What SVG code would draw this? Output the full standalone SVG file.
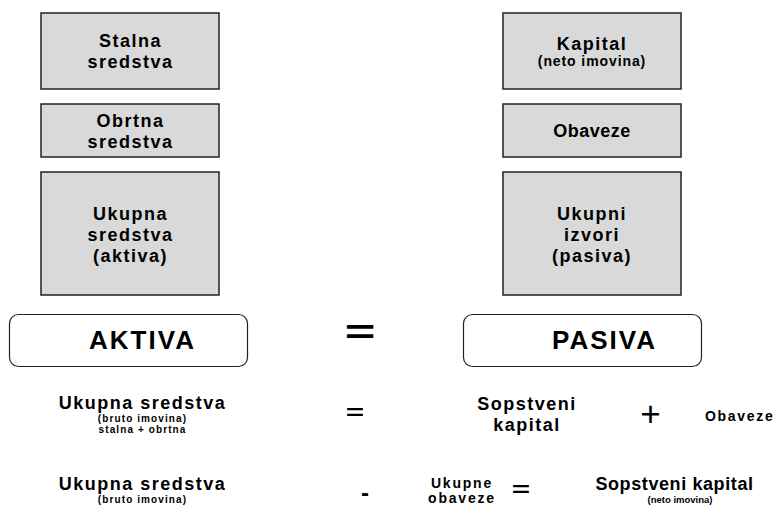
<svg xmlns="http://www.w3.org/2000/svg" width="774" height="506" viewBox="0 0 774 506">
<style>
text{font-family:"Liberation Sans",Arial,sans-serif;fill:#000;text-anchor:middle}
.b{font-weight:bold}
.lbl{font-size:18px;font-weight:bold;letter-spacing:1.5px}
.sub{font-size:14px;font-weight:bold;letter-spacing:0.9px}
.tiny{font-size:10px;font-weight:bold;letter-spacing:1.1px}
.big{font-size:26px;font-weight:bold;letter-spacing:2px}
.op{font-weight:bold}
.box{fill:#d9d9d9;stroke:#222;stroke-width:1.5}
.pill{fill:#fff;stroke:#222;stroke-width:1.2}
</style>
<rect width="774" height="506" fill="#fff"/>
<g id="stalna">
<rect class="box" x="41" y="13" width="178" height="76"/>
<text class="lbl" x="130.5" y="47">Stalna</text>
<text class="lbl" x="130.5" y="68">sredstva</text>
</g>
<g id="obrtna">
<rect class="box" x="41" y="104" width="178" height="53"/>
<text class="lbl" x="130.5" y="127">Obrtna</text>
<text class="lbl" x="130.5" y="148">sredstva</text>
</g>
<g id="ukupna">
<rect class="box" x="41" y="172" width="178" height="123"/>
<text class="lbl" x="130.5" y="220">Ukupna</text>
<text class="lbl" x="130.5" y="241">sredstva</text>
<text class="lbl" x="130.5" y="262">(aktiva)</text>
</g>
<g id="kapital">
<rect class="box" x="503" y="13" width="178" height="76"/>
<text class="lbl" x="592" y="50">Kapital</text>
<text class="sub" x="592" y="66">(neto imovina)</text>
</g>
<g id="obaveze">
<rect class="box" x="503" y="104" width="178" height="53"/>
<text class="lbl" x="592" y="137" style="letter-spacing:0.5px">Obaveze</text>
</g>
<g id="ukupni">
<rect class="box" x="503" y="172" width="178" height="123"/>
<text class="lbl" x="592" y="220">Ukupni</text>
<text class="lbl" x="592" y="241">izvori</text>
<text class="lbl" x="592" y="262">(pasiva)</text>
</g>
<g id="aktiva">
<rect class="pill" x="9.5" y="314.5" width="238" height="52" rx="9"/>
<text class="big" x="142.5" y="349">AKTIVA</text>
</g>
<g id="pasiva">
<rect class="pill" x="463.5" y="314.5" width="238" height="52" rx="9"/>
<text class="big" x="604.5" y="349">PASIVA</text>
</g>
<g id="connectors"></g>
<g id="equation1">
<text class="op" transform="translate(360,344) scale(1.5,1)" style="font-size:35px">=</text>
</g>
<g id="row1">
<text class="lbl" x="142.5" y="409">Ukupna sredstva</text>
<text class="tiny" x="142.5" y="422">(bruto imovina)</text>
<text class="tiny" x="142.5" y="433">stalna + obrtna</text>
<text class="op" transform="translate(355,418.5) scale(1.5,1)" style="font-size:21px">=</text>
<text class="lbl" x="527" y="410">Sopstveni</text>
<text class="lbl" x="527" y="431">kapital</text>
<text x="650.5" y="426" style="font-size:35px">+</text>
<text class="b" x="705" y="421" style="font-size:14px;letter-spacing:1.7px;text-anchor:start">Obaveze</text>
</g>
<g id="row2">
<text class="lbl" x="142.5" y="490">Ukupna sredstva</text>
<text class="tiny" x="142.5" y="503">(bruto imovina)</text>
<text class="b" x="365" y="501" style="font-size:24px">-</text>
<text class="b" x="462" y="488" style="font-size:14px;letter-spacing:1.8px">Ukupne</text>
<text class="b" x="462" y="503" style="font-size:14px;letter-spacing:1.8px">obaveze</text>
<text class="op" transform="translate(521,496) scale(1.5,1)" style="font-size:21px">=</text>
<text class="lbl" x="674.5" y="490" style="letter-spacing:0.6px">Sopstveni kapital</text>
<text class="b" x="680" y="503" style="font-size:9.5px">(neto imovina)</text>
</g>
</svg>
